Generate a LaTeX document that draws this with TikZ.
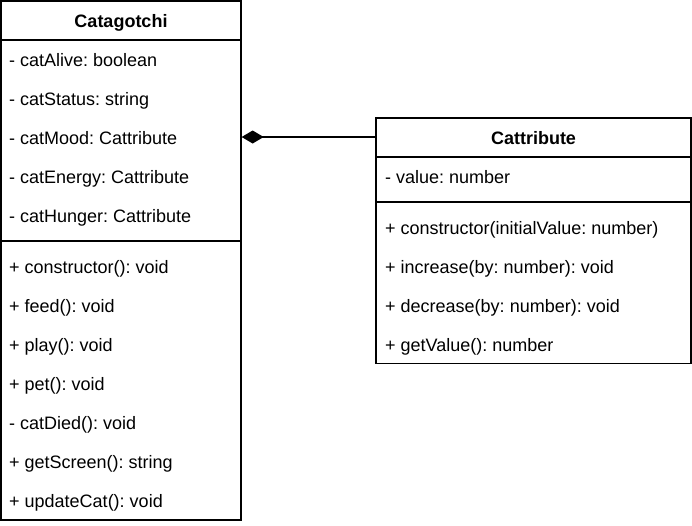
\documentclass[tikz,border=0pt]{standalone}
\usepackage{fontspec}
\setmainfont{Liberation Sans}
\usetikzlibrary{arrows.meta}
\frenchspacing

\begin{document}
\begin{tikzpicture}[x=1pt,y=-1pt]
  \tikzset{classbox/.style={draw, line width=1.3pt, inner sep=0pt},
    classtitle/.style={font=\fontsize{18}{21}\selectfont\bfseries, inner sep=0pt,
      text height=16pt, text depth=3.5pt},
    member/.style={font=\fontsize{18}{21}\selectfont, anchor=west, inner sep=0pt,
      text height=16pt, text depth=3.5pt},
    divider/.style={line width=1.3pt},
    composition/.style={line width=1.3pt, -{Diamond[length=22pt,width=13pt]}}}
  \useasboundingbox (0,0) rectangle (692,525);
  % Catagotchi
  \node[classbox, minimum width=240pt, minimum height=519pt] (catbox) at (121,260.5) {};
  \node[classtitle, minimum width=240pt] (cattitle) at (121,21.5) {Catagotchi};
  \draw[divider] (catbox.west |- 0,40) -- (catbox.east |- 0,40);
  \foreach \txt [count=\i] in {- catAlive: boolean, - catStatus: string,
      - catMood: Cattribute, - catEnergy: Cattribute, - catHunger: Cattribute}
    \node[member] (catattr\i) at (9,21.5+39*\i) {\txt};
  \draw[divider] (catbox.west |- 0,241) -- (catbox.east |- 0,241);
  \foreach \txt [count=\i] in {+ constructor(): void, + feed(): void, + play(): void,
      + pet(): void, - catDied(): void, + getScreen(): string, + updateCat(): void}
    \node[member] (catop\i) at (9,228.5+39*\i) {\txt};
  % Cattribute
  \node[classbox, minimum width=315pt, minimum height=245.5pt] (attrbox) at (533.5,240.75) {};
  \node[classtitle, minimum width=315pt] (attrtitle) at (533.5,138.5) {Cattribute};
  \draw[divider] (attrbox.west |- 0,157) -- (attrbox.east |- 0,157);
  \node[member] (attrval) at (385,177.5) {- value: number};
  \draw[divider] (attrbox.west |- 0,202) -- (attrbox.east |- 0,202);
  \foreach \txt [count=\i] in {+ constructor(initialValue: number),
      + increase(by: number): void, + decrease(by: number): void, + getValue(): number}
    \node[member] (attrop\i) at (385,189.5+39*\i) {\txt};
  % composition
  \draw[composition] ([yshift=1.5pt]attrtitle.west) -- ([yshift=1.5pt]attrtitle.west -| catbox.east);
\end{tikzpicture}
\end{document}
